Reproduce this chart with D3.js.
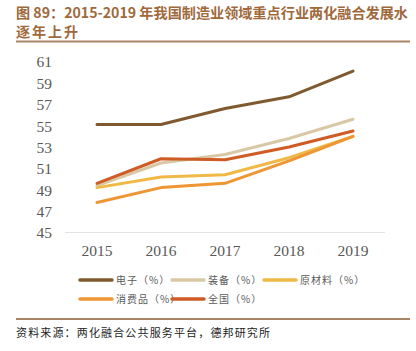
<!DOCTYPE html>
<html>
<head>
<meta charset="utf-8">
<script src="https://cdn.jsdelivr.net/npm/d3@7"></script>
<style>
  body { margin: 0; background: #fff; }
  svg { display: block; }
</style>
</head>
<body>
<svg id="chart" width="416" height="351"></svg>
<script>
const years = ['2015', '2016', '2017', '2018', '2019'];
const yTicks = [45, 47, 49, 51, 53, 55, 57, 59, 61];

const electronics = [55.1, 55.1, 56.6, 57.7, 60.1];
const equipment = [49.4, 51.5, 52.3, 53.8, 55.6];
const rawMaterial = [49.2, 50.2, 50.4, 52.0, 54.0];
const consumer = [47.8, 49.2, 49.6, 51.7, 54.0];
const national = [49.6, 51.9, 51.8, 53.0, 54.5];

const seriesNames = ['电子（%）', '装备（%）', '原材料（%）', '消费品（%）', '全国（%）'];
const seriesColors = ['#7f5a30', '#d8c8a6', '#f0b947', '#ee9534', '#cf5b25'];

const series = [electronics, equipment, rawMaterial, consumer, national].map((values, i) => ({
  name: seriesNames[i],
  color: seriesColors[i],
  values: values.map((v, j) => ({ year: years[j], value: v }))
}));

const svg = d3.select('#chart');
const cjk = '"Noto Sans CJK SC", "Noto Sans", sans-serif';
const serif = '"Liberation Serif", "DejaVu Serif", serif';

// title
const title = svg.append('g').attr('fill', '#a0693c').attr('font-family', cjk)
  .attr('font-size', 14).attr('font-weight', 'bold');
title.append('text').attr('x', 16).attr('y', 18)
  .attr('textLength', 392).attr('lengthAdjust', 'spacingAndGlyphs')
  .text('图 89：2015-2019 年我国制造业领域重点行业两化融合发展水');
title.append('text').attr('x', 16).attr('y', 37).attr('letter-spacing', 2).text('逐年上升');
svg.append('line').attr('x1', 16).attr('x2', 410).attr('y1', 41.5).attr('y2', 41.5)
  .attr('stroke', '#a88466').attr('stroke-width', 2);

// scales
const x = d3.scaleBand().domain(years).range([65, 385]);
const y = d3.scaleLinear().domain([45, 61]).range([232.5, 61.5]);

// baseline axis
svg.append('line').attr('x1', 65).attr('x2', 385).attr('y1', y(45)).attr('y2', y(45))
  .attr('stroke', '#e3e3e3').attr('stroke-width', 1);

const yAxis = svg.append('g').attr('transform', 'translate(52,0)')
  .call(d3.axisLeft(y).tickValues(yTicks).tickSize(0).tickPadding(0));
yAxis.select('.domain').remove();
yAxis.selectAll('text').attr('font-family', serif).attr('font-size', 15.5)
  .attr('fill', '#595959').attr('dy', '0.35em');

const xAxis = svg.append('g').attr('transform', `translate(0,${y(45)})`)
  .call(d3.axisBottom(x).tickSize(0).tickPadding(12));
xAxis.select('.domain').remove();
xAxis.selectAll('text').attr('font-family', serif).attr('font-size', 15.5)
  .attr('fill', '#595959');

// lines
const line = d3.line()
  .x(d => x(d.year) + x.bandwidth() / 2)
  .y(d => y(d.value));

svg.append('g').selectAll('path').data(series).join('path')
  .attr('d', d => line(d.values))
  .attr('fill', 'none')
  .attr('stroke', d => d.color)
  .attr('stroke-width', 3)
  .attr('stroke-linecap', 'round')
  .attr('stroke-linejoin', 'round');

// legend
const legendPos = [[80, 280], [172, 280], [264, 280], [80, 299], [172, 299]];
const legend = svg.append('g').selectAll('g').data(series).join('g')
  .attr('transform', (d, i) => `translate(${legendPos[i]})`);
legend.append('line').attr('x1', 0).attr('x2', 32).attr('y1', 0).attr('y2', 0)
  .attr('stroke', d => d.color).attr('stroke-width', 3.5).attr('stroke-linecap', 'round');
legend.append('text').attr('x', 36).attr('y', 0).attr('dy', '0.35em')
  .attr('font-family', cjk).attr('font-size', 10).attr('fill', '#595959')
  .attr('letter-spacing', 1)
  .text(d => d.name);

// footer
svg.append('line').attr('x1', 16).attr('x2', 410).attr('y1', 319).attr('y2', 319)
  .attr('stroke', '#a88466').attr('stroke-width', 2);
svg.append('text').attr('x', 16).attr('y', 337)
  .attr('font-family', cjk).attr('font-size', 11).attr('fill', '#222')
  .attr('textLength', 254).attr('lengthAdjust', 'spacing')
  .text('资料来源：两化融合公共服务平台，德邦研究所');
</script>
</body>
</html>
